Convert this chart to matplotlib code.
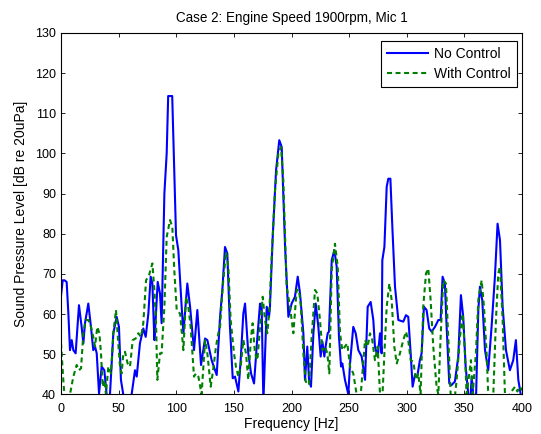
import matplotlib
matplotlib.use("Agg")
import matplotlib.pyplot as plt

plt.rcParams['font.family'] = ['Liberation Sans', 'DejaVu Sans']

# No Control (blue)
f_nc = [0, 1.5, 3, 4.9, 6.4, 7.8, 9.3, 10.7, 12.7, 15.6, 17.9, 19.4, 20.8, 23.7, 26, 28, 29.5, 31,
        33, 35.3, 37.6, 39.6, 41, 42.5, 45.4, 48.3, 50.3, 52, 54, 58, 61.3, 64.2, 65.7, 68.5, 71.4,
        73.5, 75.8, 77.8, 79.3, 81, 82.1, 83.9, 85.9, 87.3, 89.7, 91.7, 93, 96.5, 99.8, 101.8,
        104.7, 106.2, 109.6, 112, 115.4, 118.3, 121.5, 125, 127, 130.7, 135.1, 138, 140, 142.3,
        144.3, 146.6, 149, 151, 153.9, 155.9, 158.2, 159.7, 162.5, 164.9, 167.5, 170.4, 172.7,
        174.1, 175.6, 178.5, 180.5, 181.3, 183.7, 186.6, 189.4, 191.5, 194.4, 197.3, 200.1, 203,
        205.4, 207.4, 210.3, 211.7, 213.7, 215.2, 216.9, 219, 221, 223.3, 225.3, 226.8, 228.5,
        229.6, 231.4, 232.5, 234.9, 237.2, 239.2, 241.2, 243, 244.1, 246.4, 249.3, 250.8, 253.6,
        255.7, 258, 260.9, 263.8, 266.1, 268.7, 271, 272.4, 274.8, 276.8, 278.2, 278.8, 280.6,
        282.6, 284, 285.8, 287.5, 289.8, 292.7, 297, 299.3, 301.3, 303.4, 305.1, 307.1, 309.1,
        311.4, 312.9, 314.9, 317.2, 319.5, 321.6, 324.5, 327.4, 329.4, 331.1, 333.1, 334.6,
        336.9, 338.9, 341.8, 344.7, 347, 349, 351.1, 353.4, 355, 356.3, 357.7, 360, 362.1, 363.5,
        365.5, 367.9, 370.7, 373.6, 376.5, 378.8, 380.9, 383.2, 386.1, 389.5, 392.4, 394.7,
        396.8, 398.8, 400]
v_nc = [64.5, 68.4, 68.4, 68.0, 60.1, 51, 53.5, 51, 50.2, 62.2, 56.8, 52.7, 57.7, 62.6, 56.8, 51,
        51.9, 50.2, 40.2, 46.9, 46, 40, 37, 40, 55.2, 59.3, 56.8, 43.6, 40, 36, 40, 46, 44.4, 52.7,
        56.4, 54.3, 60.1, 69.3, 67.6, 53.5, 58.5, 68, 65.1, 57.7, 90, 100, 114.3, 114.3, 79.6,
        75.9, 61.8, 55.2, 67.6, 61.8, 51, 61, 47.3, 53.9, 53.5, 48.5, 44.8, 59.3, 66, 76.7, 75.1,
        56.8, 44, 44.4, 40.7, 48.5, 60.1, 62.6, 50.2, 45.2, 42.7, 54.3, 62.6, 61.8, 38, 61.8,
        59.3, 61.8, 79.2, 95.8, 103.3, 101.6, 77, 59.3, 62.6, 64.3, 69.3, 65.1, 55.2, 43.6, 51.9,
        43.6, 41.9, 55.2, 62.6, 56.8, 49.4, 53.1, 49.4, 51.9, 55.2, 55.6, 73.4, 75.9, 71.8, 54.3,
        46.9, 47.7, 43.6, 40, 47.7, 56.8, 55.2, 51, 49.4, 43.6, 61.8, 63, 58.5, 51.9, 49.4, 55.2,
        50.2, 73.4, 76.7, 91.7, 93.7, 93.7, 81.7, 66.8, 58.5, 58.1, 59.7, 59.3, 50.2, 41.9, 44.8,
        44.4, 48.5, 50.2, 61.8, 61, 56.4, 55.6, 56.8, 58.5, 58.5, 69.3, 67.6, 56.8, 42.7, 42.3,
        43.2, 49.4, 64.7, 59.3, 46.9, 40, 37, 44.4, 40, 38, 61, 66.8, 63.5, 51, 46, 56.8, 69.3,
        82.5, 78.4, 61.8, 51, 46, 48.5, 53.5, 43.6, 40, 38]

# With Control (green)
f_wc = [0, 2, 2.9, 5, 7.8, 10.7, 13.6, 15.6, 17.4, 19.4, 21.4, 23.7, 25.7, 28, 29.5, 31.5, 33.3,
        34.7, 36.2, 37.6, 39, 41.1, 43.4, 45.4, 47.7, 49.7, 51.2, 52.6, 54.1, 55.5, 57.8, 59.9,
        62.2, 64.8, 67.1, 69.4, 71.4, 73.8, 76.4, 79.3, 81, 82.4, 83.6, 85.9, 87.3, 89.7, 91.7,
        94.6, 96.6, 98.3, 100.4, 103.3, 106.2, 108.5, 110.5, 112.5, 115.4, 117.1, 119.2, 122,
        125, 127, 129.9, 132.2, 134.5, 136.5, 138, 140.3, 143.2, 145.2, 147.2, 150.1, 151.8,
        153.9, 155.9, 158.2, 160.5, 162.5, 164.9, 166.3, 168.3, 170.4, 172.7, 175, 177, 179,
        180.8, 182.8, 185.7, 188.6, 190.9, 192.9, 195.8, 198.7, 201.6, 204.5, 206.5, 208.2,
        210.3, 212.3, 215.2, 217.5, 220.4, 222.4, 224.7, 226.8, 229.1, 231.1, 232.8, 234.9,
        237.7, 240.1, 242.1, 244.1, 246.4, 248.4, 250.8, 253.6, 256.5, 259, 261.5, 263.8, 266.1,
        268.1, 270.1, 272.4, 274.8, 276.8, 278.5, 280.6, 282.6, 284.9, 286.9, 289.2, 291.3,
        294.1, 297, 299.3, 301.3, 303.4, 305.7, 308, 310, 312, 314.3, 316.7, 318.7, 320.7, 323,
        325.9, 327.4, 329.4, 331.7, 334, 336, 338.1, 340.5, 343.3, 346.2, 348.5, 350.5, 351.9,
        354.3, 355.7, 357.2, 360, 362.1, 365, 367, 369.3, 370.7, 373, 375.1, 377.4, 379.4,
        380.9, 383.2, 385.2, 387.5, 389.5, 391.9, 393.9, 396, 398.2, 400]
v_wc = [52.7, 43.6, 40, 36, 40, 44.4, 47.3, 46, 46.5, 55.2, 58.5, 58.5, 57.2, 54.3, 51.9, 56.8,
        55.2, 50.2, 41.9, 43.6, 40, 46.9, 45.2, 55.2, 61, 52.7, 46.9, 45.2, 50.2, 50.6, 47.7,
        46.9, 53.5, 53.9, 55.2, 54.3, 57.7, 68.4, 69.7, 72.6, 66, 58.5, 43.6, 50.2, 50.2, 61.8,
        79.2, 83.4, 81.7, 70.9, 61, 60.1, 51, 64.3, 61.8, 56.8, 44.4, 45.2, 44.4, 40, 53.5, 50.2,
        41.9, 46.5, 51.9, 55.2, 56.8, 66.8, 75.5, 71.8, 58.5, 50.2, 46.9, 44.4, 46.9, 53.5, 50.2,
        43.6, 54.3, 57.7, 50.2, 48.5, 56.8, 64.3, 58.5, 55.2, 61, 74.2, 90.8, 100, 101.6, 93.3,
        66.8, 61.8, 55.2, 66, 66, 61.8, 50.2, 43.2, 42.3, 54.3, 66, 65.1, 58.5, 51, 51.9, 50.2,
        45.2, 70.9, 77.5, 71.8, 55.2, 51, 51.9, 52.7, 46.9, 45.2, 40, 36, 45.2, 53.5, 51.9, 55.2,
        53.5, 48.5, 51.9, 40, 37, 50.2, 61.8, 67.6, 63.5, 51.9, 47.7, 50.2, 53.5, 55.6, 53.5,
        48.5, 48.1, 43.6, 45.2, 40, 61.8, 70.1, 71.3, 63.5, 51.9, 41.9, 40, 54.3, 68.4, 67.6,
        54.3, 40, 36, 43.6, 54.3, 60.1, 50.2, 40, 45.2, 48.5, 40, 50.2, 63.5, 68.4, 61.8, 50.2,
        40, 36, 40, 58.5, 70.1, 71.8, 58.5, 40, 36, 40, 41.1, 41.9, 40.7, 41.9, 41]

xticks = [0, 50, 100, 150, 200, 250, 300, 350, 400]
yticks = [40, 50, 60, 70, 80, 90, 100, 110, 120, 130]

fig = plt.figure(figsize=(5.41, 4.34), dpi=100)
ax = fig.add_axes([61/541, 1-394.3/434, 461/541, (394.3-33)/434])
ax.plot(f_nc, v_nc, color=(0, 0, 1), lw=1.5, label='No Control')
ax.plot(f_wc, v_wc, color=(0, 0.5, 0), lw=1.5, ls=(0, (2.4, 1.7)), label='With Control')
ax.set_xlim(0, 400)
ax.set_ylim(40, 130)
ax.set_xticks(xticks)
ax.set_yticks(yticks)
ax.tick_params(direction='in', top=True, right=True, labelsize=9, length=3, width=0.6)
ax.tick_params(axis='y', pad=3.5)
ax.tick_params(axis='x', pad=6.5)
for s in ax.spines.values():
    s.set_linewidth(0.8)
ax.set_title('Case 2: Engine Speed 1900rpm, Mic 1', fontsize=9.75, pad=8)
ax.set_xlabel('Frequency [Hz]', fontsize=10, labelpad=1.5)
ax.set_ylabel('Sound Pressure Level [dB re 20uPa]', fontsize=10, labelpad=5)
leg = ax.legend(loc='upper right', bbox_to_anchor=((517-61)/461, (394.3-40.7)/361.3),
                fontsize=10, frameon=True, fancybox=False, edgecolor='black', framealpha=1,
                borderaxespad=0, handlelength=3.0, handletextpad=0.4,
                borderpad=0.45, labelspacing=0.4)
leg.get_frame().set_linewidth(0.8)
fig.savefig('out.png', dpi=100)
